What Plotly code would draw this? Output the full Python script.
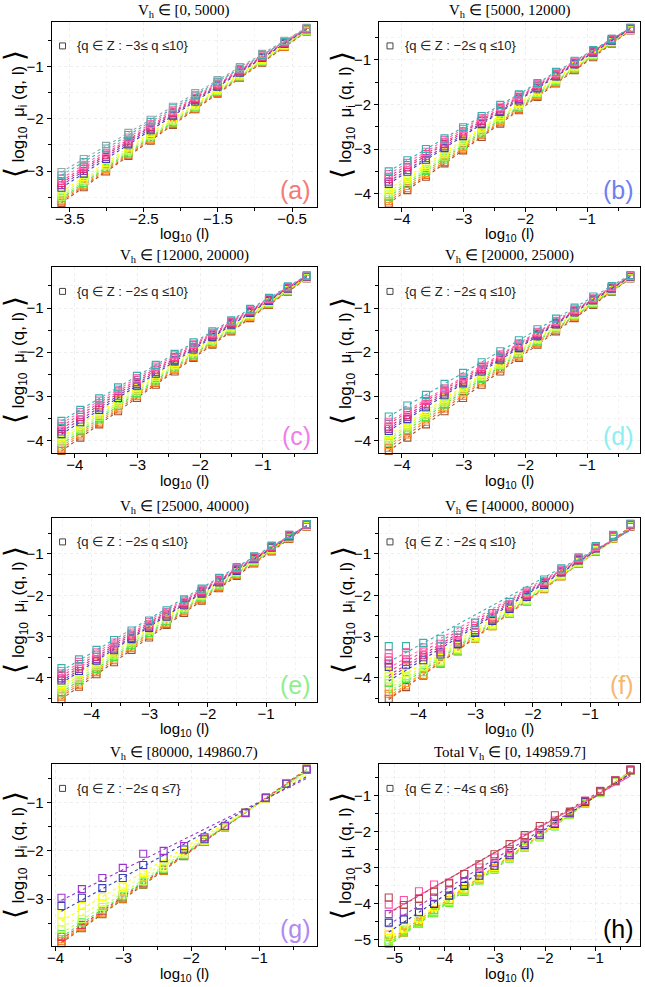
import numpy as np
import plotly.graph_objects as go

# x positions: log10(l), l = 2^-k
LOG10_L = [-0.301, -0.602, -0.903, -1.204, -1.505, -1.806, -2.107, -2.408, -2.709,
           -3.010, -3.311, -3.612, -3.913, -4.214, -4.515, -4.816, -5.117]

TITLES = ["V<sub>h</sub> ∈ [0, 5000)", "V<sub>h</sub> ∈ [5000, 12000)",
          "V<sub>h</sub> ∈ [12000, 20000)", "V<sub>h</sub> ∈ [20000, 25000)",
          "V<sub>h</sub> ∈ [25000, 40000)", "V<sub>h</sub> ∈ [40000, 80000)",
          "V<sub>h</sub> ∈ [80000, 149860.7)", "Total V<sub>h</sub> ∈ [0, 149859.7]"]
Q_TEXT = ["{q ∈ Z : −3≤ q ≤10}", "{q ∈ Z : −2≤ q ≤10}", "{q ∈ Z : −2≤ q ≤10}",
          "{q ∈ Z : −2≤ q ≤10}", "{q ∈ Z : −2≤ q ≤10}", "{q ∈ Z : −2≤ q ≤10}",
          "{q ∈ Z : −2≤ q ≤7}", "{q ∈ Z : −4≤ q ≤6}"]
LABELS = ["(a)", "(b)", "(c)", "(d)", "(e)", "(f)", "(g)", "(h)"]
LABEL_COLORS = ["#F27C74", "#6F7FF2", "#F07EEA", "#8CF0F0", "#90EE90", "#F5B870", "#B388F0", "#000000"]
Y_RANGES = [[-3.68, -0.15], [-4.29, -0.15], [-4.29, -0.08], [-4.29, -0.08],
            [-4.57, -0.13], [-4.57, -0.13], [-3.97, -0.21], [-5.18, -0.14]]

PAL14 = ["#8FA8A8", "#3AAFB0", "#FF69B4", "#FF3D8B", "#D6307A", "#8B3FB8", "#3A3FB5",
         "#FFFF00", "#D4FF3A", "#9CFF52", "#4CE34C", "#FF9A1F", "#F26A1B", "#A0522D"]
PAL13 = ["#3AAFB0", "#FF69B4", "#FF3D8B", "#D6307A", "#8B3FB8", "#3A3FB5",
         "#FFFF00", "#D4FF3A", "#9CFF52", "#4CE34C", "#FF9A1F", "#F26A1B", "#A0522D"]
PAL10 = ["#9A32CD", "#3A3FB5", "#FFFF00", "#E8FF5A", "#B5FF50", "#55E655",
         "#E8344A", "#FF8C1A", "#F06A00", "#5A7A30"]
PAL11 = ["#B5474B", "#FF4FA3", "#A040C0", "#2B2B9C", "#FFFF00", "#FF9A1F",
         "#C8FF50", "#9CFF52", "#7CFC00", "#4CE34C", "#66CC33"]

Y_A = [
    [-0.26, -0.51, -0.76, -1.01, -1.26, -1.51, -1.77, -2.02, -2.27, -2.52, -2.77, -3.02],
    [-0.27, -0.53, -0.78, -1.04, -1.29, -1.55, -1.80, -2.06, -2.31, -2.57, -2.83, -3.08],
    [-0.27, -0.53, -0.79, -1.05, -1.31, -1.57, -1.84, -2.10, -2.36, -2.62, -2.88, -3.14],
    [-0.28, -0.54, -0.81, -1.07, -1.34, -1.60, -1.87, -2.13, -2.40, -2.66, -2.93, -3.19],
    [-0.28, -0.55, -0.82, -1.08, -1.35, -1.62, -1.89, -2.16, -2.43, -2.69, -2.96, -3.23],
    [-0.29, -0.56, -0.83, -1.10, -1.37, -1.64, -1.92, -2.19, -2.46, -2.73, -3.00, -3.27],
    [-0.29, -0.57, -0.84, -1.12, -1.39, -1.67, -1.94, -2.22, -2.49, -2.77, -3.05, -3.32],
    [-0.30, -0.58, -0.86, -1.15, -1.43, -1.71, -1.99, -2.27, -2.55, -2.84, -3.12, -3.40],
    [-0.31, -0.60, -0.88, -1.17, -1.45, -1.74, -2.02, -2.31, -2.59, -2.88, -3.17, -3.45],
    [-0.31, -0.60, -0.89, -1.18, -1.47, -1.76, -2.04, -2.33, -2.62, -2.91, -3.20, -3.49],
    [-0.32, -0.61, -0.90, -1.19, -1.48, -1.77, -2.07, -2.36, -2.65, -2.94, -3.23, -3.52],
    [-0.32, -0.61, -0.91, -1.20, -1.49, -1.79, -2.08, -2.38, -2.67, -2.96, -3.26, -3.55],
    [-0.33, -0.63, -0.92, -1.22, -1.51, -1.81, -2.10, -2.40, -2.69, -2.99, -3.28, -3.58],
    [-0.33, -0.63, -0.93, -1.22, -1.52, -1.82, -2.12, -2.42, -2.71, -3.01, -3.31, -3.61],
]

Y_B = [
    [-0.28, -0.53, -0.78, -1.02, -1.27, -1.52, -1.77, -2.01, -2.26, -2.51, -2.76, -3.00, -3.25, -3.50],
    [-0.28, -0.53, -0.78, -1.04, -1.29, -1.54, -1.79, -2.05, -2.30, -2.55, -2.80, -3.06, -3.31, -3.56],
    [-0.29, -0.55, -0.80, -1.06, -1.31, -1.57, -1.83, -2.08, -2.34, -2.60, -2.85, -3.11, -3.36, -3.62],
    [-0.29, -0.55, -0.81, -1.07, -1.33, -1.59, -1.85, -2.11, -2.37, -2.63, -2.89, -3.15, -3.41, -3.67],
    [-0.30, -0.56, -0.83, -1.09, -1.36, -1.62, -1.88, -2.15, -2.41, -2.67, -2.94, -3.20, -3.47, -3.73],
    [-0.30, -0.57, -0.84, -1.10, -1.37, -1.64, -1.91, -2.17, -2.44, -2.71, -2.98, -3.24, -3.51, -3.78],
    [-0.31, -0.59, -0.86, -1.14, -1.41, -1.69, -1.97, -2.24, -2.52, -2.80, -3.07, -3.35, -3.62, -3.90],
    [-0.31, -0.59, -0.87, -1.15, -1.43, -1.71, -1.99, -2.28, -2.56, -2.84, -3.12, -3.40, -3.68, -3.96],
    [-0.32, -0.60, -0.89, -1.17, -1.46, -1.74, -2.03, -2.31, -2.60, -2.88, -3.17, -3.45, -3.74, -4.02],
    [-0.32, -0.61, -0.90, -1.19, -1.47, -1.76, -2.05, -2.34, -2.63, -2.92, -3.21, -3.49, -3.78, -4.07],
    [-0.33, -0.62, -0.91, -1.20, -1.50, -1.79, -2.08, -2.37, -2.66, -2.95, -3.25, -3.54, -3.83, -4.12],
    [-0.33, -0.63, -0.92, -1.22, -1.51, -1.81, -2.10, -2.40, -2.69, -2.99, -3.29, -3.58, -3.88, -4.17],
    [-0.34, -0.64, -0.94, -1.23, -1.53, -1.83, -2.13, -2.43, -2.73, -3.03, -3.32, -3.62, -3.92, -4.22],
]

Y_C = [
    [-0.26, -0.51, -0.77, -1.02, -1.28, -1.53, -1.78, -2.04, -2.29, -2.54, -2.80, -3.05, -3.31, -3.56],
    [-0.27, -0.53, -0.79, -1.04, -1.30, -1.56, -1.82, -2.07, -2.33, -2.59, -2.85, -3.10, -3.36, -3.62],
    [-0.27, -0.53, -0.79, -1.06, -1.32, -1.58, -1.84, -2.11, -2.37, -2.63, -2.89, -3.16, -3.42, -3.68],
    [-0.28, -0.55, -0.81, -1.08, -1.34, -1.61, -1.88, -2.14, -2.41, -2.68, -2.94, -3.21, -3.47, -3.74],
    [-0.28, -0.55, -0.82, -1.09, -1.36, -1.63, -1.90, -2.18, -2.45, -2.72, -2.99, -3.26, -3.53, -3.80],
    [-0.29, -0.56, -0.84, -1.11, -1.39, -1.66, -1.94, -2.21, -2.49, -2.76, -3.04, -3.31, -3.59, -3.86],
    [-0.30, -0.58, -0.86, -1.14, -1.41, -1.69, -1.97, -2.25, -2.53, -2.81, -3.09, -3.36, -3.64, -3.92],
    [-0.30, -0.58, -0.87, -1.15, -1.44, -1.72, -2.00, -2.29, -2.57, -2.85, -3.14, -3.42, -3.71, -3.99],
    [-0.31, -0.60, -0.88, -1.17, -1.46, -1.74, -2.03, -2.32, -2.61, -2.89, -3.18, -3.47, -3.75, -4.04],
    [-0.31, -0.60, -0.89, -1.18, -1.47, -1.76, -2.06, -2.35, -2.64, -2.93, -3.22, -3.51, -3.80, -4.09],
    [-0.32, -0.61, -0.91, -1.20, -1.50, -1.79, -2.08, -2.38, -2.67, -2.96, -3.26, -3.55, -3.85, -4.14],
    [-0.32, -0.62, -0.92, -1.21, -1.51, -1.81, -2.11, -2.40, -2.70, -3.00, -3.30, -3.60, -3.89, -4.19],
    [-0.33, -0.63, -0.93, -1.23, -1.53, -1.83, -2.13, -2.44, -2.74, -3.04, -3.34, -3.64, -3.94, -4.24],
]

Y_D = [
    [-0.25, -0.50, -0.74, -0.99, -1.24, -1.48, -1.73, -1.98, -2.23, -2.47, -2.72, -2.97, -3.21, -3.46],
    [-0.27, -0.52, -0.78, -1.03, -1.29, -1.54, -1.80, -2.05, -2.31, -2.56, -2.82, -3.07, -3.33, -3.58],
    [-0.27, -0.53, -0.79, -1.05, -1.30, -1.56, -1.82, -2.08, -2.34, -2.60, -2.85, -3.11, -3.37, -3.63],
    [-0.28, -0.54, -0.80, -1.07, -1.33, -1.59, -1.85, -2.12, -2.38, -2.64, -2.90, -3.17, -3.43, -3.69],
    [-0.28, -0.55, -0.81, -1.08, -1.34, -1.61, -1.88, -2.14, -2.41, -2.68, -2.94, -3.21, -3.47, -3.74],
    [-0.29, -0.56, -0.83, -1.10, -1.37, -1.64, -1.91, -2.17, -2.44, -2.71, -2.98, -3.25, -3.52, -3.79],
    [-0.30, -0.58, -0.85, -1.13, -1.40, -1.68, -1.95, -2.23, -2.50, -2.78, -3.05, -3.33, -3.60, -3.88],
    [-0.30, -0.58, -0.86, -1.14, -1.42, -1.70, -1.98, -2.26, -2.54, -2.82, -3.10, -3.38, -3.66, -3.94],
    [-0.31, -0.59, -0.88, -1.16, -1.44, -1.73, -2.01, -2.29, -2.57, -2.86, -3.14, -3.42, -3.71, -3.99],
    [-0.31, -0.60, -0.89, -1.17, -1.46, -1.75, -2.04, -2.32, -2.61, -2.90, -3.19, -3.47, -3.76, -4.05],
    [-0.32, -0.61, -0.90, -1.19, -1.49, -1.78, -2.07, -2.36, -2.65, -2.94, -3.24, -3.53, -3.82, -4.11],
    [-0.32, -0.62, -0.91, -1.21, -1.50, -1.80, -2.10, -2.39, -2.69, -2.99, -3.28, -3.58, -3.87, -4.17],
    [-0.33, -0.63, -0.93, -1.23, -1.53, -1.83, -2.13, -2.44, -2.74, -3.04, -3.34, -3.64, -3.94, -4.24],
]

Y_E = [
    [-0.28, -0.54, -0.80, -1.06, -1.32, -1.58, -1.84, -2.10, -2.36, -2.61, -2.85, -3.08, -3.32, -3.55, -3.76],
    [-0.28, -0.54, -0.81, -1.07, -1.34, -1.60, -1.87, -2.13, -2.40, -2.65, -2.90, -3.14, -3.38, -3.61, -3.83],
    [-0.29, -0.55, -0.82, -1.09, -1.36, -1.63, -1.90, -2.17, -2.44, -2.70, -2.95, -3.19, -3.43, -3.66, -3.89],
    [-0.29, -0.56, -0.83, -1.10, -1.37, -1.64, -1.92, -2.19, -2.46, -2.73, -2.99, -3.24, -3.49, -3.72, -3.95],
    [-0.30, -0.57, -0.84, -1.12, -1.39, -1.67, -1.94, -2.22, -2.49, -2.76, -3.03, -3.29, -3.54, -3.78, -4.01],
    [-0.30, -0.58, -0.85, -1.13, -1.41, -1.69, -1.96, -2.24, -2.52, -2.79, -3.06, -3.33, -3.58, -3.83, -4.06],
    [-0.31, -0.59, -0.86, -1.14, -1.41, -1.69, -1.96, -2.24, -2.52, -2.79, -3.07, -3.34, -3.62, -3.89, -4.17],
    [-0.31, -0.59, -0.87, -1.15, -1.43, -1.71, -1.99, -2.27, -2.55, -2.83, -3.11, -3.39, -3.67, -3.95, -4.23],
    [-0.32, -0.60, -0.89, -1.17, -1.45, -1.74, -2.02, -2.31, -2.59, -2.87, -3.16, -3.44, -3.72, -4.01, -4.29],
    [-0.32, -0.61, -0.90, -1.18, -1.47, -1.76, -2.05, -2.34, -2.62, -2.91, -3.20, -3.49, -3.78, -4.06, -4.35],
    [-0.33, -0.62, -0.91, -1.20, -1.49, -1.78, -2.07, -2.36, -2.66, -2.95, -3.24, -3.53, -3.82, -4.11, -4.40],
    [-0.33, -0.62, -0.92, -1.21, -1.51, -1.80, -2.10, -2.39, -2.69, -2.98, -3.27, -3.57, -3.86, -4.16, -4.45],
    [-0.34, -0.64, -0.94, -1.23, -1.53, -1.83, -2.13, -2.43, -2.72, -3.02, -3.32, -3.62, -3.91, -4.21, -4.51],
]

Y_F = [
    [-0.27, -0.54, -0.81, -1.08, -1.35, -1.62, -1.89, -2.16, -2.43, -2.66, -2.85, -3.05, -3.15, -3.23, -3.23],
    [-0.27, -0.55, -0.83, -1.10, -1.38, -1.66, -1.93, -2.21, -2.49, -2.74, -2.96, -3.17, -3.26, -3.37, -3.41],
    [-0.28, -0.56, -0.84, -1.12, -1.40, -1.68, -1.96, -2.24, -2.53, -2.79, -3.03, -3.24, -3.36, -3.45, -3.50],
    [-0.28, -0.56, -0.85, -1.13, -1.42, -1.70, -1.99, -2.27, -2.56, -2.84, -3.09, -3.31, -3.45, -3.55, -3.58],
    [-0.29, -0.57, -0.86, -1.15, -1.44, -1.72, -2.01, -2.30, -2.59, -2.88, -3.14, -3.38, -3.50, -3.61, -3.65],
    [-0.29, -0.58, -0.87, -1.16, -1.45, -1.75, -2.04, -2.33, -2.62, -2.91, -3.18, -3.43, -3.57, -3.68, -3.73],
    [-0.30, -0.59, -0.89, -1.18, -1.48, -1.78, -2.07, -2.37, -2.66, -2.96, -3.24, -3.52, -3.66, -3.77, -3.86],
    [-0.31, -0.61, -0.91, -1.21, -1.51, -1.81, -2.11, -2.41, -2.71, -3.01, -3.30, -3.58, -3.74, -3.88, -3.96],
    [-0.31, -0.61, -0.92, -1.22, -1.52, -1.82, -2.13, -2.43, -2.73, -3.03, -3.33, -3.62, -3.80, -3.96, -4.04],
    [-0.32, -0.62, -0.92, -1.23, -1.53, -1.83, -2.14, -2.44, -2.74, -3.04, -3.34, -3.64, -3.86, -4.02, -4.12],
    [-0.32, -0.63, -0.93, -1.23, -1.54, -1.84, -2.14, -2.45, -2.75, -3.05, -3.35, -3.65, -3.92, -4.12, -4.26],
    [-0.33, -0.63, -0.94, -1.24, -1.54, -1.85, -2.15, -2.45, -2.75, -3.05, -3.36, -3.66, -3.95, -4.18, -4.38],
    [-0.34, -0.64, -0.94, -1.24, -1.54, -1.84, -2.14, -2.44, -2.74, -3.04, -3.33, -3.63, -3.93, -4.22, -4.50],
]

Y_G = [
    [-0.32, -0.61, -0.90, -1.22, -1.48, -1.72, -1.90, -2.00, -2.06, -2.35, -2.56, -2.79, -2.97],
    [-0.31, -0.61, -0.90, -1.21, -1.49, -1.76, -1.97, -2.15, -2.29, -2.56, -2.77, -2.97, -3.14],
    [-0.31, -0.61, -0.91, -1.21, -1.50, -1.78, -2.02, -2.27, -2.46, -2.74, -2.96, -3.14, -3.31],
    [-0.31, -0.61, -0.91, -1.21, -1.50, -1.79, -2.05, -2.33, -2.55, -2.84, -3.08, -3.27, -3.48],
    [-0.30, -0.61, -0.91, -1.21, -1.51, -1.80, -2.07, -2.36, -2.62, -2.90, -3.16, -3.41, -3.62],
    [-0.30, -0.61, -0.91, -1.21, -1.51, -1.80, -2.08, -2.38, -2.65, -2.94, -3.22, -3.48, -3.72],
    [-0.30, -0.61, -0.91, -1.21, -1.51, -1.81, -2.09, -2.39, -2.67, -2.96, -3.25, -3.53, -3.78],
    [-0.30, -0.60, -0.91, -1.21, -1.51, -1.81, -2.10, -2.40, -2.68, -2.98, -3.28, -3.56, -3.83],
    [-0.30, -0.60, -0.90, -1.21, -1.51, -1.81, -2.10, -2.41, -2.69, -2.99, -3.30, -3.58, -3.87],
    [-0.30, -0.60, -0.90, -1.20, -1.51, -1.81, -2.11, -2.41, -2.70, -3.00, -3.31, -3.60, -3.91],
]

Y_H = [
    [-0.28, -0.59, -0.88, -1.15, -1.45, -1.55, -1.85, -2.10, -2.35, -2.63, -2.91, -3.18, -3.44, -3.67, -3.87, -4.04, -3.83],
    [-0.28, -0.58, -0.87, -1.15, -1.46, -1.70, -1.95, -2.17, -2.49, -2.72, -3.00, -3.18, -3.42, -3.47, -3.66, -3.90, -4.03],
    [-0.30, -0.59, -0.88, -1.17, -1.48, -1.77, -2.05, -2.33, -2.60, -2.87, -3.14, -3.40, -3.62, -3.83, -4.06, -4.22, -4.29],
    [-0.30, -0.59, -0.89, -1.18, -1.49, -1.79, -2.09, -2.38, -2.66, -2.95, -3.23, -3.51, -3.78, -4.01, -4.24, -4.44, -4.53],
    [-0.30, -0.59, -0.89, -1.19, -1.50, -1.81, -2.11, -2.40, -2.69, -2.99, -3.28, -3.58, -3.86, -4.10, -4.42, -4.70, -4.76],
    [-0.30, -0.60, -0.90, -1.20, -1.51, -1.82, -2.12, -2.41, -2.70, -3.01, -3.30, -3.61, -3.90, -4.18, -4.50, -4.80, -4.86],
    [-0.30, -0.60, -0.91, -1.21, -1.52, -1.83, -2.14, -2.43, -2.72, -3.03, -3.32, -3.62, -3.92, -4.17, -4.42, -4.64, -4.95],
    [-0.31, -0.61, -0.91, -1.22, -1.53, -1.84, -2.15, -2.44, -2.73, -3.04, -3.33, -3.64, -3.95, -4.22, -4.50, -4.72, -5.02],
    [-0.31, -0.61, -0.92, -1.22, -1.53, -1.85, -2.16, -2.45, -2.74, -3.05, -3.35, -3.66, -3.97, -4.25, -4.53, -4.77, -5.08],
    [-0.31, -0.62, -0.92, -1.23, -1.54, -1.86, -2.16, -2.45, -2.75, -3.06, -3.36, -3.68, -3.98, -4.27, -4.56, -4.81, -5.12],
    [-0.31, -0.61, -0.92, -1.22, -1.53, -1.85, -2.15, -2.44, -2.74, -3.04, -3.34, -3.65, -3.96, -4.23, -4.49, -4.75, -5.06],
]

PANEL_DATA = [Y_A, Y_B, Y_C, Y_D, Y_E, Y_F, Y_G, Y_H]
PANEL_PALETTES = [PAL14, PAL13, PAL13, PAL13, PAL13, PAL13, PAL10, PAL11]

# layout: plot-area boxes in pixels (left, top, right, bottom)
W, H = 645, 987
BOXES = [(47, 22, 314, 207), (377, 22, 640, 207),
         (47, 268, 314, 454), (377, 268, 640, 454),
         (47, 519, 314, 703), (377, 519, 640, 703),
         (47, 766, 314, 948), (377, 766, 640, 948)]

SANS = "Liberation Sans, Arial, sans-serif"
SERIF = "Liberation Serif, Times New Roman, serif"

fig = go.Figure()
layout = dict(width=W, height=H, margin=dict(l=0, r=0, t=0, b=0),
              paper_bgcolor="white", plot_bgcolor="white", showlegend=False)
annotations = []
shapes = []

for p in range(8):
    n = "" if p == 0 else str(p + 1)
    xa, ya = "x" + n, "y" + n
    L, T, R, B = BOXES[p]
    data = PANEL_DATA[p]
    pal = PANEL_PALETTES[p]
    K = len(data[0])
    xs = np.array(LOG10_L[:K])
    for i in reversed(range(len(data))):
        ys = np.array(data[i])
        col = pal[i]
        a, b = np.polyfit(xs, ys, 1)
        xl = np.array([xs.min(), xs.max()])
        dash = "solid" if (p == 7 and i == 1) else "dot"
        fig.add_trace(go.Scatter(x=xl, y=a * xl + b, mode="lines", xaxis=xa, yaxis=ya,
                                 line=dict(color=col, width=1.1, dash=dash),
                                 hoverinfo="skip"))
        fig.add_trace(go.Scatter(x=xs, y=ys, mode="markers", xaxis=xa, yaxis=ya,
                                 cliponaxis=False,
                                 marker=dict(symbol="square-open", size=7, color=col,
                                             line=dict(color=col, width=1.1))))
    xmin, xmax = xs.min(), xs.max()
    pad = 0.04 * (xmax - xmin)
    tick0x = 0.5 if p == 0 else 0
    common = dict(showline=True, linecolor="black", linewidth=1, mirror=True,
                  ticks="outside", ticklen=4, tickwidth=1, tickcolor="black",
                  showgrid=True, gridcolor="#EEEEEE", griddash="dot", gridwidth=1,
                  zeroline=False, tickfont=dict(family=SANS, size=15, color="black"),
                  dtick=1)
    minor = dict(dtick=0.5, tick0=0, ticks="outside", ticklen=3, tickcolor="black",
                 showgrid=True, gridcolor="#F3F3F3", griddash="dot")
    layout["xaxis" + n] = dict(common, domain=[L / W, R / W], anchor=ya,
                               range=[xmin - pad, xmax + pad], tick0=tick0x, minor=minor,
                               ticklabelstandoff=-6)
    layout["yaxis" + n] = dict(common, domain=[1 - B / H, 1 - T / H], anchor=xa,
                               range=Y_RANGES[p], tick0=0, minor=minor)
    cx = (L + R) / 2 / W
    # title
    annotations.append(dict(text=TITLES[p], xref="paper", yref="paper", x=cx,
                            y=1 - (T - 11) / H, xanchor="center", yanchor="middle",
                            showarrow=False, font=dict(family=SERIF, size=15, color="black")))
    # x title
    annotations.append(dict(text="log<sub>10</sub> (l)", xref="paper", yref="paper", x=cx,
                            y=1 - (B + 28) / H, xanchor="center", yanchor="middle",
                            showarrow=False, font=dict(family=SANS, size=15, color="black")))
    # y title
    ytx = 10 if L < 100 else 340
    annotations.append(dict(
        text="<span style='font-size:28px'>⟨</span>\u00a0log<sub>10</sub>\u00a0\u00a0μ<sub>i</sub>\u00a0(q,\u00a0l)\u00a0<span style='font-size:28px'>⟩</span>",
        xref="paper", yref="paper", x=ytx / W, y=1 - (T + B) / 2 / H,
        xanchor="center", yanchor="middle", textangle=-90, showarrow=False,
        font=dict(family=SANS, size=17, color="black")))
    # legend
    shapes.append(dict(type="rect", xref="paper", yref="paper",
                       x0=(L + 8) / W, x1=(L + 14) / W,
                       y0=1 - (T + 27) / H, y1=1 - (T + 21) / H,
                       line=dict(color="#444444", width=1), fillcolor="rgba(0,0,0,0)"))
    annotations.append(dict(text=Q_TEXT[p], xref="paper", yref="paper",
                            x=(L + 24) / W, y=1 - (T + 24) / H, xanchor="left",
                            yanchor="middle", showarrow=False,
                            font=dict(family=SANS, size=13, color="#222222")))
    # panel label
    annotations.append(dict(text=LABELS[p], xref="paper", yref="paper",
                            x=(R - 4) / W, y=1 - (B - 1) / H, xanchor="right",
                            yanchor="bottom", showarrow=False,
                            font=dict(family=SANS, size=25, color=LABEL_COLORS[p])))

layout["annotations"] = annotations
layout["shapes"] = shapes
fig.update_layout(**layout)
fig.write_html("out.html")
